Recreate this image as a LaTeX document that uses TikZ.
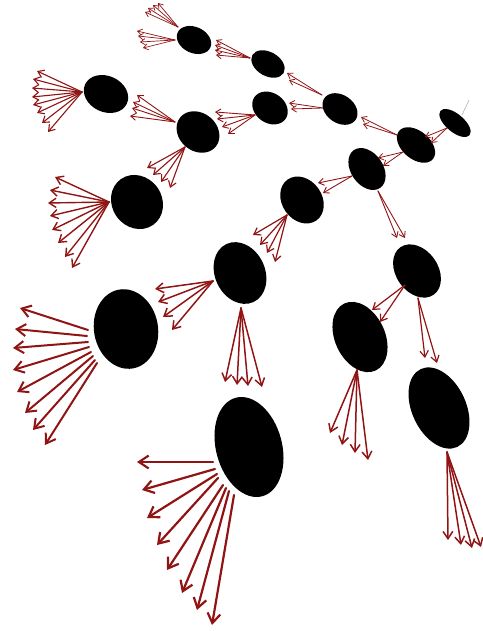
\documentclass[tikz,border=0pt]{standalone}
\usetikzlibrary{shapes.geometric,arrows.meta}
\definecolor{fanred}{RGB}{145,20,20}
\tikzset{
  blob/.style={ellipse, fill=black, draw=none, inner sep=0pt},
  arr/.style={draw=fanred, line cap=round, -{Straight Barb[length=2pt 3.5, width=3pt 4.5]}},
}
\begin{document}
\begin{tikzpicture}[x=1pt,y=-1pt]
\useasboundingbox (0,0) rectangle (482,631);
% ellipses: center, size, rotation (clockwise visually)
\node[blob, minimum width=38pt, minimum height=18pt, rotate=-40] (A) at (455,123) {};
\node[blob, minimum width=44pt, minimum height=28pt, rotate=-40] (B) at (416,145) {};
\node[blob, minimum width=38pt, minimum height=28pt, rotate=-35] (C) at (340,109) {};
\node[blob, minimum width=36pt, minimum height=24pt, rotate=-30] (D) at (268,64) {};
\node[blob, minimum width=36pt, minimum height=26pt, rotate=-25] (E) at (194,40) {};
\node[blob, minimum width=38pt, minimum height=30pt, rotate=-35] (F) at (270,108) {};
\node[blob, minimum width=46pt, minimum height=38pt, rotate=-40] (G) at (198,132) {};
\node[blob, minimum width=46pt, minimum height=36pt, rotate=-25] (H) at (106,94) {};
\node[blob, minimum width=56pt, minimum height=50pt, rotate=-55] (I) at (137,202) {};
\node[blob, minimum width=50pt, minimum height=40pt, rotate=-55] (J) at (302,200) {};
\node[blob, minimum width=46pt, minimum height=32pt, rotate=-55] (K) at (367,169) {};
\node[blob, minimum width=58pt, minimum height=42pt, rotate=-55] (L) at (417,271) {};
\node[blob, minimum width=74pt, minimum height=50pt, rotate=-65] (M) at (360,337) {};
\node[blob, minimum width=86pt, minimum height=54pt, rotate=-65] (N) at (439,408) {};
\node[blob, minimum width=64pt, minimum height=50pt, rotate=-65] (O) at (240,273) {};
\node[blob, minimum width=80pt, minimum height=64pt, rotate=-80] (P) at (126,329) {};
\node[blob, minimum width=102pt, minimum height=66pt, rotate=-75] (Q) at (249,447) {};
% thin grey stem on A
\coordinate (stem) at (469,100);
\draw[gray!60, line width=0.6pt] (462,115) coordinate (Atop) -- (stem);
% fans: origin coordinate and named free ends
\coordinate (oAB) at (447,128);
\foreach \x/\y [count=\i] in {425/137,431/143}
  {\coordinate (eAB\i) at (\x,\y); \draw[arr, line width=0.8pt] (oAB) -- (eAB\i);}
\coordinate (oBC) at (397,135);
\foreach \x/\y [count=\i] in {361/117,363/124}
  {\coordinate (eBC\i) at (\x,\y); \draw[arr, line width=0.8pt] (oBC) -- (eBC\i);}
\coordinate (oBK) at (403,152);
\foreach \x/\y [count=\i] in {378/158,383/166}
  {\coordinate (eBK\i) at (\x,\y); \draw[arr, line width=0.8pt] (oBK) -- (eBK\i);}
\coordinate (oCD) at (322,95);
\foreach \x/\y [count=\i] in {287/73,289/80}
  {\coordinate (eCD\i) at (\x,\y); \draw[arr, line width=0.8pt] (oCD) -- (eCD\i);}
\coordinate (oCF) at (323,108);
\foreach \x/\y [count=\i] in {289/103,291/109}
  {\coordinate (eCF\i) at (\x,\y); \draw[arr, line width=0.8pt] (oCF) -- (eCF\i);}
\coordinate (oDE) at (250,58);
\foreach \x/\y [count=\i] in {216/40,215/45,215/50,216/55}
  {\coordinate (eDE\i) at (\x,\y); \draw[arr, line width=0.8pt] (oDE) -- (eDE\i);}
\coordinate (oEu) at (178,27);
\foreach \x/\y [count=\i] in {145/12,148/8,153/5,158/3}
  {\coordinate (eEu\i) at (\x,\y); \draw[arr, line width=0.7pt] (oEu) -- (eEu\i);}
\coordinate (oEl) at (175,40);
\foreach \x/\y [count=\i] in {137/31,138/36,140/42,143/48}
  {\coordinate (eEl\i) at (\x,\y); \draw[arr, line width=0.7pt] (oEl) -- (eEl\i);}
\coordinate (oFG) at (255,115);
\foreach \x/\y [count=\i] in {215/112,217/119,222/127,228/134}
  {\coordinate (eFG\i) at (\x,\y); \draw[arr, line width=0.9pt] (oFG) -- (eFG\i);}
\coordinate (oGH) at (175,122);
\foreach \x/\y [count=\i] in {137/95,133/102,132/108,130/116}
  {\coordinate (eGH\i) at (\x,\y); \draw[arr, line width=0.9pt] (oGH) -- (eGH\i);}
\coordinate (oH) at (82,92);
\foreach \x/\y [count=\i] in {37/71,33/79,32/88,32/97,33/105,37/113,42/123,48/132}
  {\coordinate (eH\i) at (\x,\y); \draw[arr, line width=1.1pt] (oH) -- (eH\i);}
\coordinate (oGI) at (185,147);
\foreach \x/\y [count=\i] in {147/168,153/175,161/182,170/188}
  {\coordinate (eGI\i) at (\x,\y); \draw[arr, line width=1.1pt] (oGI) -- (eGI\i);}
\coordinate (oI) at (109,202);
\foreach \x/\y [count=\i] in {55/177,50/190,48/203,50/216,52/230,58/243,65/257,72/268}
  {\coordinate (eI\i) at (\x,\y); \draw[arr, line width=1.4pt] (oI) -- (eI\i);}
\coordinate (oKJ) at (352,176);
\foreach \x/\y [count=\i] in {318/183,323/193}
  {\coordinate (eKJ\i) at (\x,\y); \draw[arr, line width=0.9pt] (oKJ) -- (eKJ\i);}
\coordinate (oKL) at (378,191);
\foreach \x/\y [count=\i] in {397/238,405/238}
  {\coordinate (eKL\i) at (\x,\y); \draw[arr, line width=0.9pt] (oKL) -- (eKL\i);}
\coordinate (oJO) at (287,215);
\foreach \x/\y [count=\i] in {253/235,260/245,267/253,275/262}
  {\coordinate (eJO\i) at (\x,\y); \draw[arr, line width=1.2pt] (oJO) -- (eJO\i);}
\coordinate (oLM) at (405,285);
\foreach \x/\y [count=\i] in {372/310,380/322}
  {\coordinate (eLM\i) at (\x,\y); \draw[arr, line width=1.2pt] (oLM) -- (eLM\i);}
\coordinate (oLN) at (418,298);
\foreach \x/\y [count=\i] in {425/358,437/363}
  {\coordinate (eLN\i) at (\x,\y); \draw[arr, line width=1.2pt] (oLN) -- (eLN\i);}
\coordinate (oM) at (357,370);
\foreach \x/\y [count=\i] in {330/433,342/445,355/453,368/460}
  {\coordinate (eM\i) at (\x,\y); \draw[arr, line width=1.5pt] (oM) -- (eM\i);}
\coordinate (oN) at (447,452);
\foreach \x/\y [count=\i] in {448/540,461/545,472/548,481/547}
  {\coordinate (eN\i) at (\x,\y); \draw[arr, line width=1.5pt] (oN) -- (eN\i);}
\coordinate (oOP) at (213,281);
\foreach \x/\y [count=\i] in {155/289,158/302,163/317,172/330}
  {\coordinate (eOP\i) at (\x,\y); \draw[arr, line width=1.5pt] (oOP) -- (eOP\i);}
\coordinate (oOQ) at (241,308);
\foreach \x/\y [count=\i] in {225/382,237/385,248/386,262/387}
  {\coordinate (eOQ\i) at (\x,\y); \draw[arr, line width=1.5pt] (oOQ) -- (eOQ\i);}
\foreach \ox/\oy/\x/\y [count=\i] in {88/330/20/308,87/336/15/329,88/342/13/348,89/347/13/370,91/352/17/392,93/356/25/413,95/360/33/430,97/363/45/445}
  {\coordinate (oP\i) at (\ox,\oy); \coordinate (eP\i) at (\x,\y); \draw[arr, line width=2pt] (oP\i) -- (eP\i);}
\foreach \ox/\oy/\x/\y [count=\i] in {213/462/137/462,215/469/142/490,217/474/147/518,218/478/157/545,223/485/167/570,226/488/182/593,229/491/197/610,234/495/212/625}
  {\coordinate (oQ\i) at (\ox,\oy); \coordinate (eQ\i) at (\x,\y); \draw[arr, line width=2.2pt] (oQ\i) -- (eQ\i);}
\end{tikzpicture}
\end{document}
